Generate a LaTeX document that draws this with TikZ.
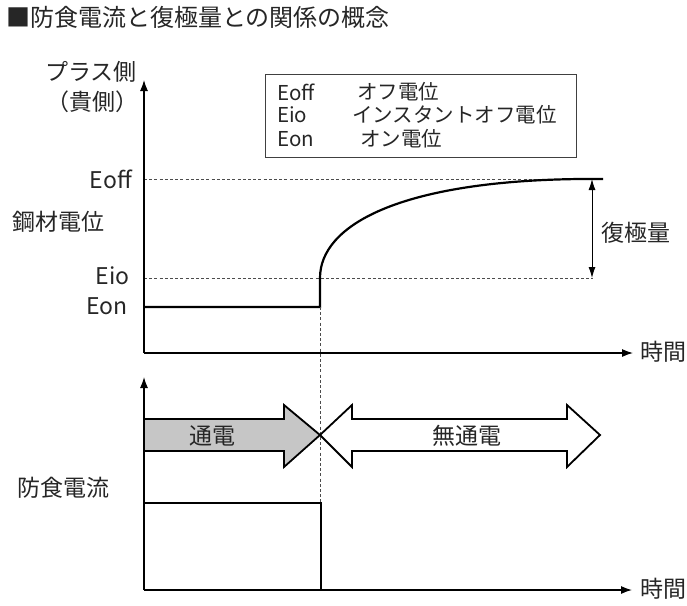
\documentclass[tikz,border=0pt]{standalone}
\usepackage{fontspec}
\setmainfont{Noto Sans CJK JP}
\usetikzlibrary{arrows.meta}

\begin{document}
\begin{tikzpicture}[
  x=1pt, y=-1pt,
  every node/.style = {
    font=\fontsize{23}{27}\selectfont,
    inner sep=0pt,
    text=black!85
  },
  legendtext/.style = {font=\fontsize{20.5}{24}\selectfont, anchor=west},
  axis/.style = {line width=1.2pt, -{Latex[length=11pt,width=8pt]}},
  guide/.style = {line width=0.8pt, black!70, dash pattern=on 3pt off 2.2pt},
  signal/.style = {line width=2.2pt, line join=miter},
  band/.style = {line width=1.8pt, line join=miter},
  span/.style = {line width=0.9pt, {Latex[length=11pt,width=7pt]}-{Latex[length=11pt,width=7pt]}}
]
\useasboundingbox (0,0) rectangle (687,605);

\node[anchor=west, font=\fontsize{24}{28}\selectfont] (title) at (6,17) {■防食電流と復極量との関係の概念};

% upper chart
\coordinate (O1) at (144,353);
\coordinate (Y1) at (144,80);
\coordinate (X1) at (633,353);
\coordinate (offA) at (144,179);
\coordinate (offB) at (603,179);
\coordinate (ioA) at (144,278);
\coordinate (ioB) at (593,278);
\coordinate (on0) at (144,307);
\coordinate (on1) at (320,307);
\coordinate (io) at (320,278);
\coordinate (off1) at (580,179);
\coordinate (rA) at (592,179);
\coordinate (rB) at (592,278);

\node (plus) at (91,72) {プラス側};
\node (noble) at (92,102) {（貴側）};
\node[anchor=east] (Eoff) at (132,179) {Eoff};
\node[anchor=west] (steel) at (12,222) {鋼材電位};
\node[anchor=east] (Eio) at (130,276) {Eio};
\node[anchor=east] (Eon) at (128,306) {Eon};
\node[anchor=west] (recov) at (601,233) {復極量};
\node[anchor=west] (t1) at (640,352) {時間};

\node[draw, black!75, line width=0.9pt, minimum width=311pt, minimum height=83pt] (legend) at (420.5,115.5) {};
\node[legendtext] (k1) at (277,92) {Eoff};
\node[legendtext] (v1) at (357,92) {オフ電位};
\node[legendtext] (k2) at (277,115) {Eio};
\node[legendtext] (v2) at (352,115) {インスタントオフ電位};
\node[legendtext] (k3) at (277,139) {Eon};
\node[legendtext] (v3) at (360,139) {オン電位};

\draw[guide] (offA) -- (offB);
\draw[guide] (ioA) -- (ioB);
\draw[axis] (O1) -- (Y1);
\draw[axis] (O1) -- (X1);
\draw[signal] (on0) -- (on1) -- (io)
  .. controls (320,225) and (400,181) .. (off1) -- (offB);
\draw[span] (rA) -- (rB);

% lower chart
\coordinate (O2) at (144,590);
\coordinate (Y2) at (144,377);
\coordinate (X2) at (632,590);
\coordinate (cur0) at (144,503);
\coordinate (cur1) at (321,503);
\coordinate (cur2) at (321,590);
\coordinate (cur3) at (622,590);

\node[anchor=west] (current) at (17,488) {防食電流};
\node[anchor=west] (t2) at (640,589) {時間};

\draw[guide] (on1) -- (320,503);
\draw[axis] (O2) -- (Y2);
\draw[axis] (O2) -- (X2);
\draw[signal] (cur0) -- (cur1) -- (cur2) -- (cur3);

\draw[band, fill=gray!45] (144,419) -- (284,419) -- (284,405) -- (320,435)
  -- (284,467) -- (284,451) -- (144,451) -- cycle;
\draw[band, fill=white] (320,435) -- (352,405) -- (352,419) -- (567,419)
  -- (567,405) -- (600,435) -- (567,467) -- (567,451) -- (352,451)
  -- (352,467) -- cycle;
\node (on) at (212,436) {通電};
\node (off) at (467,436) {無通電};

\end{tikzpicture}
\end{document}
